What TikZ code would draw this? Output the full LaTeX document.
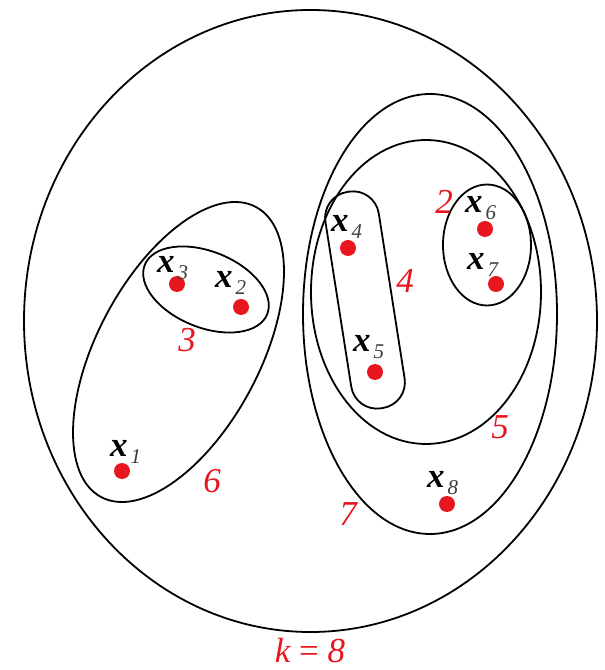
\documentclass[tikz,border=0pt]{standalone}
\usepackage{fontspec}
\setmainfont{Liberation Serif}
\usepackage{tikz}
\definecolor{ptred}{RGB}{232,22,30}
\definecolor{subgray}{RGB}{60,60,60}
\newcommand{\xlab}[1]{\textbf{\textit{x}}\kern3pt\raisebox{-7pt}{\fontsize{21}{21}\selectfont\itshape\color{subgray}#1}}
\tikzset{
  pt/.style={circle, fill=ptred, inner sep=0pt, minimum size=16pt},
  xname/.style={anchor=base west, inner sep=0pt, font=\fontsize{35}{35}\selectfont},
  cnum/.style={text=ptred, inner sep=0pt, font=\fontsize{35}{35}\selectfont\itshape},
  clus/.style={draw=black, line width=1.8pt}
}

\begin{document}
\begin{tikzpicture}[x=1pt,y=1pt]
\useasboundingbox (0,0) rectangle (605,670);
\draw[clus] (310.5,349) ellipse [x radius=286.5, y radius=311];
\draw[clus, rotate around={61.9:(178.5,318)}] (178.5,318) ellipse [x radius=164.4, y radius=81.2];
\draw[clus, rotate around={-22:(206,380.5)}] (206,380.5) ellipse [x radius=66, y radius=38];
\draw[clus] (430,356) ellipse [x radius=127, y radius=220];
\draw[clus] (426,378) ellipse [x radius=115, y radius=152];
\node[clus, rounded corners=26pt, minimum width=54pt, minimum height=219pt, rotate=8.9] (c4) at (365,370) {};
\draw[clus] (487,425) ellipse [x radius=44, y radius=60.5];
\node[pt] (x1) at (122,199) {};
\node[pt] (x2) at (241,363) {};
\node[pt] (x3) at (177,386) {};
\node[pt] (x4) at (348,422) {};
\node[pt] (x5) at (375,298) {};
\node[pt] (x6) at (485,441) {};
\node[pt] (x7) at (496,386) {};
\node[pt] (x8) at (447,166) {};
\node[xname] (l1) at (110,213) {\xlab{1}};
\node[xname] (l2) at (215,382) {\xlab{2}};
\node[xname] (l3) at (157,397) {\xlab{3}};
\node[xname] (l4) at (331,438) {\xlab{4}};
\node[xname] (l5) at (353,318) {\xlab{5}};
\node[xname] (l6) at (465,457) {\xlab{6}};
\node[xname] (l7) at (467,400) {\xlab{7}};
\node[xname] (l8) at (427,182) {\xlab{8}};
\node[cnum] (n3) at (187,330) {3};
\node[cnum] (n6) at (212,189) {6};
\node[cnum] (n4) at (405,389) {4};
\node[cnum] (n2) at (444,468) {2};
\node[cnum] (n5) at (500,243) {5};
\node[cnum] (n7) at (348,156) {7};
\node[cnum, anchor=base] (nk) at (310,8) {k \upshape= \itshape 8};
\end{tikzpicture}
\end{document}
